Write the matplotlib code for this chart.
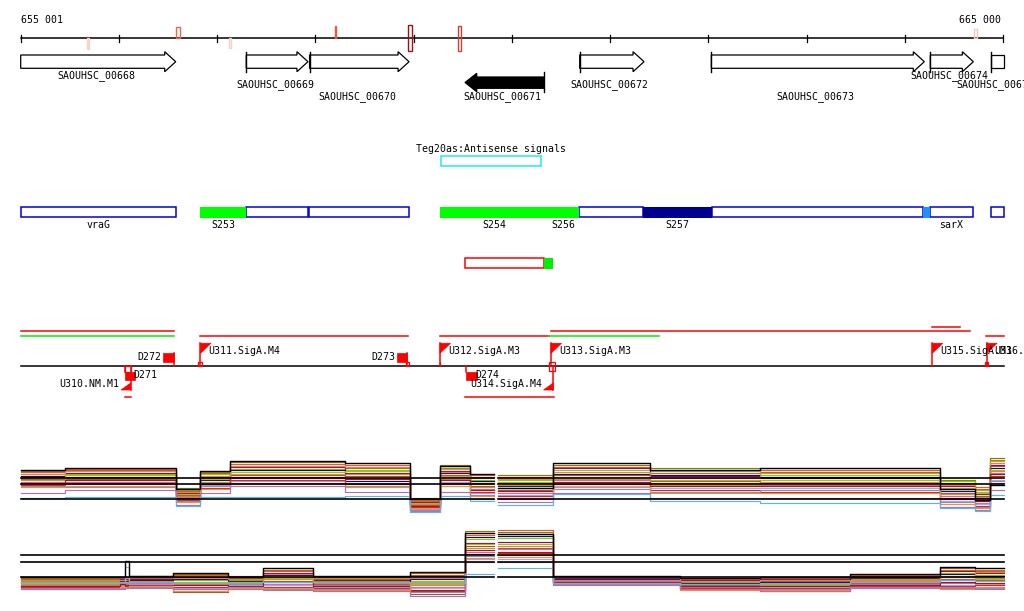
import matplotlib
matplotlib.use('Agg')
import matplotlib.pyplot as plt
from matplotlib.patches import Polygon, Rectangle

# ---------------- coordinate frame (genomic bp) ----------------
VIEW_START, VIEW_END = 655001, 665007
BP_PER_PX = 10.179
X_LEFT = 655001 - 20.7 * BP_PER_PX
X_RIGHT = X_LEFT + 1024 * BP_PER_PX

# ---------------- data ----------------
tick_positions = [655001, 656000, 657000, 658000, 659000, 660000,
                  661000, 662000, 663000, 664000, 665000]
start_label, end_label = "655 001", "665 000"

gene_names = ["SAOUHSC_00668", "SAOUHSC_00669", "SAOUHSC_00670", "SAOUHSC_00671",
              "SAOUHSC_00672", "SAOUHSC_00673", "SAOUHSC_00674", "SAOUHSC_00675"]
gene_starts = [654850, 657297, 657941, 659524, 660691, 662031, 664260, 664881]
gene_ends = [656579, 657925, 658954, 660331, 661346, 664199, 664698, 665600]
gene_strands = [1, 1, 1, -1, 1, 1, 1, 1]
gene_label_y = [76, 85, 97, 97, 85, 97, 76, 85]

marker_starts = [655680, 656582, 657123, 658200, 658946, 659455, 664706]
marker_ends = [655700, 656623, 657143, 658215, 658987, 659485, 664737]
marker_colors = ['#f9d4c8', '#f06848', '#f4d0c8', '#f05838', '#a01010', '#d04030', '#f8c8b8']
marker_filled = [True, False, False, True, False, False, False]

antisense_label = "Teg20as:Antisense signals"
antisense_start, antisense_end = 659279, 660294

feat_starts = [654850, 656826, 657297, 657939, 659269, 660368, 660687, 661335,
               662035, 664189, 664260, 664881]
feat_ends = [656579, 657294, 657922, 658950, 660368, 660687, 661335, 662035,
             664189, 664260, 664691, 665600]
feat_kinds = ['gene', 'srna', 'gene', 'gene', 'srna', 'srna', 'gene', 'navy',
              'gene', 'lblue', 'gene', 'gene']
feat_labels = ['vraG', 'S253', '', '', 'S254', 'S256', '', 'S257', '', '', 'sarX', '']

redbox_start, redbox_end, greenbox_end = 659527, 660328, 660424

seg_starts = [654850, 654850, 656826, 659269, 660378, 660399, 664277, 664827]
seg_ends = [656558, 656558, 658940, 660375, 661495, 664661, 664559, 665600]
seg_y = [331.3, 336, 336, 336, 336, 331.3, 326.7, 336]
seg_colors = ['red', '#00ee00', 'red', 'red', '#00ee00', 'red', 'red', 'red']

flag_names = ["U311.SigA.M4", "U312.SigA.M3", "U313.SigA.M3", "U315.SigA.M3",
              "U316.SigA.M3", "U310.NM.M1", "U314.SigA.M4"]
flag_pos = [656831, 659269, 660399, 664280, 664832, 656121, 660422]
flag_strand = [1, 1, 1, 1, 1, -1, -1]

term_names = ["D272", "D273", "D271", "D274"]
term_starts = [656453, 658834, 656063, 659531]
term_ends = [656558, 658936, 656164, 659643]
term_strand = [1, 1, -1, -1]

site_starts = [656806, 660378, 664817, 658924, 656063, 659264]
site_ends = [656847, 660442, 664847, 658958, 656121, 659274]
site_top = [362, 362, 362, 362, 366, 361.7]
site_bottom = [366, 371, 366, 366, 371.7, 366]
site_filled = [False, False, True, False, False, True]

under_starts = [656063, 659524]
under_ends = [656121, 660426]

# expression panels: segment boundaries and trace levels
UP_BOUNDS_L = [655001, 655452, 656582, 656826, 657131, 658302, 658963, 659268, 659574]
UP_END_L = 659818
UP_BOUNDS_R = [659859, 660418, 661405, 662525, 664357, 664713, 664866]
UP_END_R = 665007
LO_BOUNDS_L = [655001, 656012, 656063, 656104, 656552, 657112, 657467, 657976, 658963, 659523]
LO_END_L = 659818
LO_BOUNDS_R = [659859, 660418, 661711, 662525, 663441, 664357, 664713]
LO_END_R = 665007

UP_REF = [10, 8, 3]
LO_REF = [3, 8, 10.33]

trace_colors = ['#000000', '#8a7a00', '#e8582c', '#70d800', '#a0006a', '#101060',
                '#f07860', '#9a5a3a', '#a8c000', '#e060a8', '#a8a8e8', '#c89040',
                '#a01818', '#e02020', '#8090c0', '#f09030', '#b070b0', '#5ab4f0']

up_traces = [
    [12.8, 13.6, 6.5, 12.5, 15.8, 15.0, 3.0, 14.0, 11.5, 6.7, 15.0, 12.9, 13.3, 6.3, 2.8, 7.8],
    [12.4, 12.7, 6.8, 11.7, 15.3, 13.4, 3.5, 14.5, 10.5, 11.0, 14.4, 13.5, 12.2, 9.5, 6.5, 16.8],
    [12.0, 13.2, 5.9, 12.1, 14.8, 14.5, 2.4, 13.6, 11.0, 10.5, 13.9, 11.8, 12.8, 8.4, 7.0, 16.2],
    [11.3, 11.5, 6.2, 11.3, 13.2, 12.9, 3.2, 13.1, 9.5, 9.4, 12.7, 12.4, 11.1, 9.0, 5.6, 15.7],
    [10.5, 11.9, 5.0, 10.5, 13.7, 11.8, 2.2, 12.6, 8.5, 8.3, 13.3, 10.7, 10.0, 7.4, 4.7, 14.6],
    [10.9, 10.6, 5.3, 9.3, 12.7, 9.1, 1.6, 11.7, 9.0, 7.3, 11.6, 11.2, 10.6, 5.8, 3.3, 13.5],
    [11.6, 12.3, 5.6, 10.9, 14.2, 13.9, 2.7, 12.2, 10.0, 9.9, 12.2, 10.1, 11.7, 7.9, 6.1, 15.1],
    [9.7, 9.8, 4.3, 10.1, 11.1, 10.7, 1.1, 11.2, 7.5, 6.2, 11.0, 9.0, 8.4, 5.2, 4.2, 14.0],
    [10.1, 11.0, 4.7, 9.7, 12.2, 12.3, 1.9, 10.8, 8.0, 8.9, 10.5, 9.5, 9.5, 6.8, 5.1, 12.9],
    [8.9, 8.9, 4.0, 8.5, 10.1, 10.2, 0.6, 9.8, 6.5, 5.1, 9.3, 8.4, 7.8, 4.2, 1.9, 11.8],
    [8.2, 8.0, 3.1, 7.7, 9.0, 8.6, 0.0, 8.9, 5.0, 4.6, 7.6, 6.7, 6.7, 2.6, 1.4, 9.6],
    [9.3, 10.2, 3.7, 8.9, 11.6, 11.3, 1.4, 10.3, 7.0, 7.8, 9.9, 7.8, 8.9, 4.7, 3.7, 12.4],
    [8.5, 9.3, 3.4, 8.1, 10.6, 9.7, 0.8, 9.4, 6.0, 5.7, 8.8, 7.3, 7.3, 3.6, 2.3, 11.3],
    [7.8, 8.5, 2.8, 6.9, 9.6, 8.1, 0.3, 8.4, 5.5, 4.1, 8.2, 6.1, 5.6, 3.1, 0.9, 10.7],
    [7.4, 7.2, 2.5, 7.3, 8.5, 7.5, -0.5, 8.0, 4.5, 3.5, 6.5, 5.6, 6.2, 2.0, 0.5, 9.1],
    [7.0, 7.6, 2.2, 6.5, 8.0, 7.0, -0.2, 7.5, 4.0, 3.0, 7.1, 5.0, 5.1, 1.5, 0.0, 8.5],
    [5.0, 6.0, 1.2, 5.0, 7.5, 5.5, -1.0, 5.5, 3.0, 2.0, 5.0, 3.5, 3.5, 0.5, -0.5, 6.0],
    [3.6, 3.8, 0.8, 3.9, 3.9, 4.2, -1.3, 4.0, 2.5, 1.2, 4.8, 2.6, 1.8, 0.0, -1.0, 4.3],
]

lo_traces = [
    [3.0, 3.2, 8.4, 3.6, 4.5, 3.1, 6.0, 3.3, 4.8, 17.8, 17.5, 3.4, 2.8, 3.1, 4.0, 6.5, 6.0],
    [2.5, 2.9, 2.9, 2.8, 4.1, 2.9, 5.5, 2.4, 3.8, 18.4, 18.1, 2.9, 2.3, 1.8, 3.4, 6.0, 5.1],
    [2.7, 2.7, 3.2, 3.3, 3.7, 3.4, 5.1, 3.0, 4.3, 17.1, 18.8, 3.2, 2.5, 2.8, 3.7, 5.5, 5.6],
    [1.7, 1.7, 2.1, 2.6, 2.0, 2.1, 3.2, 1.8, 1.9, 15.9, 16.2, 2.4, 1.5, 1.2, 2.5, 4.5, 3.8],
    [2.0, 2.4, 2.4, 2.3, 3.2, 2.3, 4.6, 2.1, 3.3, 14.6, 14.9, 2.7, 2.0, 2.5, 2.8, 5.0, 4.3],
    [1.5, 1.9, 1.9, 2.1, 2.4, 1.8, 3.7, 1.5, 2.4, 16.5, 16.8, 2.5, 1.2, 1.5, 3.1, 4.1, 3.4],
    [2.2, 2.2, 2.7, 3.1, 2.8, 2.6, 4.1, 2.7, 2.9, 17.8, 17.5, 3.1, 1.7, 2.2, 2.2, 3.6, 4.7],
    [1.0, 0.9, 1.3, 1.3, -1.8, 1.3, 1.8, 0.9, -2.5, 13.4, 12.9, 2.0, 0.4, -1.6, 1.2, 2.6, 2.1],
    [1.2, 1.4, 1.6, 1.6, 1.6, 1.0, 2.7, 0.6, 0.9, 14.0, 14.2, 1.8, 0.7, 0.9, 1.5, 2.1, 2.5],
    [0.5, 0.4, 0.8, 1.1, 0.7, 0.7, 0.9, 0.3, -0.1, 11.5, 12.3, 1.7, -0.1, 0.3, 0.9, 1.1, 1.7],
    [0.0, 0.2, 6.4, 0.8, -0.5, 0.5, 0.4, -0.3, -0.6, 9.0, 9.0, 1.3, -0.4, -0.3, 0.3, 0.6, 0.8],
    [0.7, 1.2, 1.0, 1.8, 1.2, 1.5, 2.3, 1.2, 0.4, 12.7, 13.6, 2.2, 0.9, 0.6, 1.9, 3.1, 2.9],
    [0.2, 0.7, 0.5, 0.5, 0.3, 0.2, 1.3, 0.0, -1.1, 12.1, 11.6, 1.5, 0.1, 0.0, 0.6, 1.6, 1.2],
    [-0.3, -0.1, 0.0, 0.3, -0.1, -0.1, -0.1, -0.6, -1.5, 10.9, 11.0, 1.1, -0.7, -0.7, 0.0, 0.2, 0.4],
    [-0.5, -0.5, -0.3, -0.2, -0.9, -0.3, -1.0, -0.9, -2.0, 10.2, 10.3, 0.8, -0.9, -1.0, -0.3, -0.3, -0.5],
    [-0.8, -0.3, -0.5, 0.0, -1.4, -0.6, -0.5, -1.2, 1.4, 9.6, 9.7, 1.0, -1.2, -1.3, -0.6, -0.8, -0.1],
    [-1.0, -0.8, -0.6, -0.5, -1.0, -0.9, -1.2, -1.4, -3.2, 8.2, 8.0, 0.6, -1.0, -1.6, -0.6, -0.5, -0.8],
    [1.5, 1.5, 1.4, 1.4, 1.0, 1.5, 1.6, 1.3, 1.1, 4.0, 6.0, 1.2, 0.9, 1.0, 1.3, 2.0, 1.8],
]

# ---------------- drawing ----------------
W, H = 1024, 611
fig = plt.figure(figsize=(W / 100, H / 100), dpi=100)
fig.patch.set_facecolor('white')
ax = fig.add_axes([0, 0, 1, 1])
ax.set_xlim(X_LEFT, X_RIGHT)
ax.set_ylim(H, 0)
ax.axis('off')

FONT = dict(family='DejaVu Sans Mono', fontsize=7.1, color='black')
px = BP_PER_PX  # bp per pixel, for glyph sizes


def clip(a, b):
    return max(a, VIEW_START), min(b, VIEW_END)


# ruler
ax.text(VIEW_START, 20, start_label, ha='left', va='center', **FONT)
ax.text(665000 - 2 * px, 20, end_label, ha='right', va='center', **FONT)
ax.plot([VIEW_START, 665000], [38.3, 38.3], color='black', lw=1.1)
for t in tick_positions:
    ax.plot([t, t], [35, 41.5], color='black', lw=0.9)

marker_tops = [38, 27, 38, 26, 25, 26, 29]
marker_bots = [49, 38, 48, 38, 51, 51, 38]
for s, e, c, f, tp, bt in zip(marker_starts, marker_ends, marker_colors, marker_filled,
                              marker_tops, marker_bots):
    ax.add_patch(Rectangle((s, tp), e - s, bt - tp, facecolor=c if f else 'none',
                           edgecolor=c, lw=1.0, zorder=4))

# genes
HEAD_F = 11 * px
HEAD_R = 11.7 * px
for name, s, e, st, ly in zip(gene_names, gene_starts, gene_ends, gene_strands, gene_label_y):
    cs, ce = clip(s, e)
    if st == 1:
        if e <= VIEW_END:
            pts = [(cs, 55), (ce - HEAD_F, 55), (ce - HEAD_F, 51.7), (ce, 61.7),
                   (ce - HEAD_F, 71.7), (ce - HEAD_F, 68.3), (cs, 68.3)]
        else:
            pts = [(cs, 55), (ce, 55), (ce, 68.3), (cs, 68.3)]
        ax.add_patch(Polygon(pts, closed=True, facecolor='white', edgecolor='black', lw=0.9))
        if s >= VIEW_START:
            ax.plot([cs, cs], [51.7, 71.7], color='black', lw=1.0)
    else:
        pts = [(cs, 82.5), (cs + HEAD_R, 73.3), (cs + HEAD_R, 77), (ce, 77), (ce, 88.3),
               (cs + HEAD_R, 88.3), (cs + HEAD_R, 91.7)]
        ax.add_patch(Polygon(pts, closed=True, facecolor='black', edgecolor='black', lw=0.9))
        ax.plot([ce, ce], [71.7, 92.3], color='black', lw=1.0)
    ax.text((cs + ce) / 2 - 2 * px, ly, name, ha='center', va='center', **FONT)

# antisense
ax.text((antisense_start + antisense_end) / 2, 148.5, antisense_label, ha='center',
        va='center', **FONT)
ax.add_patch(Rectangle((antisense_start, 155.7), antisense_end - antisense_start, 10.3,
                       facecolor='none', edgecolor='#20e8f0', lw=1.1))

# annotation row
kind_face = {'gene': 'white', 'srna': '#00ff00', 'navy': '#000090', 'lblue': '#1e90ff'}
for s, e, k, lab in zip(feat_starts, feat_ends, feat_kinds, feat_labels):
    cs, ce = clip(s, e)
    if k == 'gene':
        ax.add_patch(Rectangle((cs, 207.3), ce - cs, 10, facecolor='white',
                               edgecolor='#0000e0', lw=1.1, zorder=2))
    else:
        ax.add_patch(Rectangle((cs, 207.3), ce - cs, 10.3, facecolor=kind_face[k],
                               edgecolor='none', zorder=3))
    if lab:
        ax.text((cs + ce) / 2, 224.5, lab, ha='center', va='center', **FONT)

ax.add_patch(Rectangle((redbox_start, 258.3), redbox_end - redbox_start, 10,
                       facecolor='white', edgecolor='red', lw=1.1))
ax.add_patch(Rectangle((redbox_end, 258.3), greenbox_end - redbox_end, 10.3,
                       facecolor='#00ee00', edgecolor='none'))

# segment lines above sites
for s, e, y, c in zip(seg_starts, seg_ends, seg_y, seg_colors):
    cs, ce = clip(s, e)
    ax.plot([cs, ce], [y, y], color=c, lw=1.1)

# site baseline
ax.plot([VIEW_START, VIEW_END], [366.3, 366.3], color='black', lw=1.1)

FLAG_W = 10.5 * px
for name, p, st in zip(flag_names, flag_pos, flag_strand):
    if st == 1:
        ax.plot([p, p], [366.3, 343.3], color='red', lw=1.1)
        ax.add_patch(Polygon([(p, 343.3), (p + FLAG_W, 343.3), (p, 353.3)], closed=True,
                             facecolor='red', edgecolor='red', lw=0.5))
        ax.text(p + 7.8 * px, 351, name, ha='left', va='center', **FONT)
    else:
        ax.plot([p, p], [366.3, 390], color='red', lw=1.1)
        ax.add_patch(Polygon([(p, 390), (p - 9.7 * px, 390), (p, 383)], closed=True,
                             facecolor='red', edgecolor='red', lw=0.5))
        ax.text(p - 11 * px, 384, name, ha='right', va='center', **FONT)

for name, s, e, st in zip(term_names, term_starts, term_ends, term_strand):
    if st == 1:
        ax.add_patch(Rectangle((s, 353.3), e - s, 8.4, facecolor='red', edgecolor='red', lw=0.5))
        ax.plot([e, e], [353.3, 366.3], color='red', lw=1.1)
        ax.text(s - 1.5 * px, 357.5, name, ha='right', va='center', **FONT)
    else:
        ax.add_patch(Rectangle((s, 371.5), e - s, 8, facecolor='red', edgecolor='red', lw=0.5))
        ax.plot([s, s], [366.3, 372], color='red', lw=1.1)
        ax.text(e - 1.5 * px, 375.5, name, ha='left', va='center', **FONT)

for s, e, tp, bt, f in zip(site_starts, site_ends, site_top, site_bottom, site_filled):
    ax.add_patch(Rectangle((s, tp), e - s, bt - tp, facecolor='red' if f else 'none',
                           edgecolor='red', lw=0.9, zorder=4))

for s, e in zip(under_starts, under_ends):
    ax.plot([s, e], [397.3, 397.3], color='red', lw=1.1)


# expression panels
def panel(bottom_px, top_px, v_at_zero_px, bl, el, br, er, traces, refs):
    a = fig.add_axes([0, 1 - bottom_px / H, 1, (bottom_px - top_px) / H])
    a.set_xlim(X_LEFT, X_RIGHT)
    a.set_ylim((v_at_zero_px - bottom_px) / 3.0, (v_at_zero_px - top_px) / 3.0)
    a.axis('off')
    nl = len(bl)
    order = list(range(1, len(traces))) + [0]
    for i in order:
        vals = traces[i]
        c = trace_colors[i]
        lw = 1.0 if i == 0 else 0.85
        for xs, ys in ((bl + [el], vals[:nl] + [vals[nl - 1]]),
                       (br + [er], vals[nl:] + [vals[-1]])):
            a.plot(xs, ys, drawstyle='steps-post', color=c, lw=lw, zorder=2 + (i == 0))
    for r in refs:
        a.plot([bl[0], el], [r, r], color='black', lw=1.2, zorder=5)
        a.plot([br[0], er], [r, r], color='black', lw=1.2, zorder=5)
    return a


panel(520, 450, 508.3, UP_BOUNDS_L, UP_END_L, UP_BOUNDS_R, UP_END_R, up_traces, UP_REF)
panel(600, 522, 586.3, LO_BOUNDS_L, LO_END_L, LO_BOUNDS_R, LO_END_R, lo_traces, LO_REF)

fig.savefig('out.png', dpi=100, facecolor='white')
